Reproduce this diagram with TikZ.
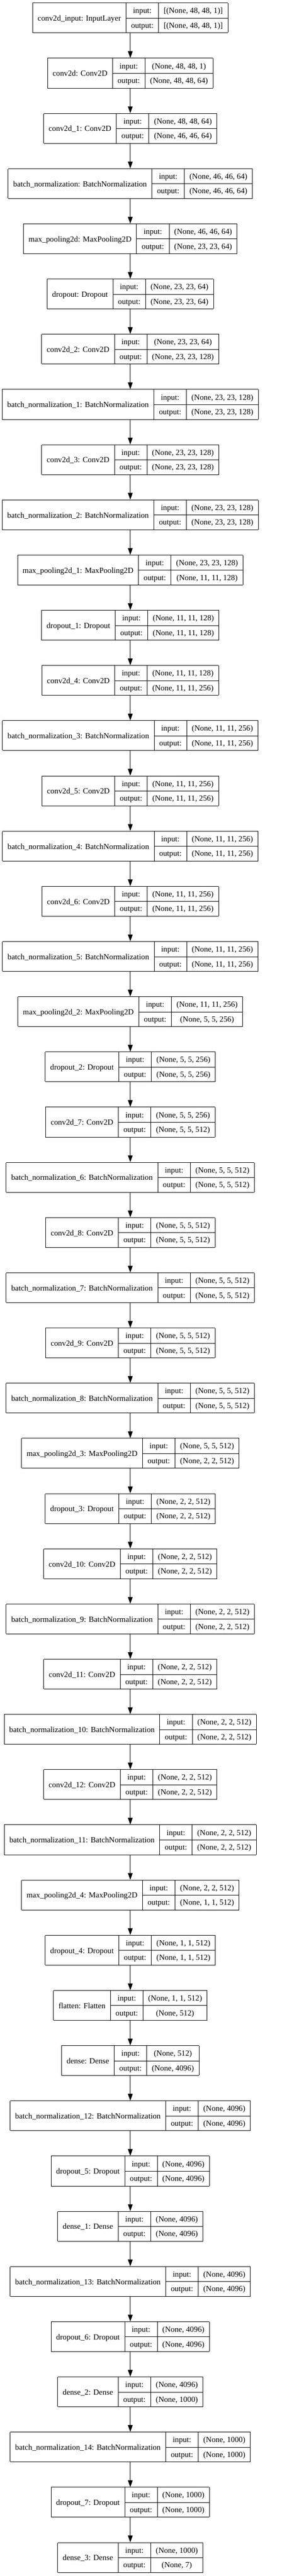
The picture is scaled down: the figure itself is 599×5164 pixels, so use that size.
\documentclass[tikz,border=0pt]{standalone}
\usepackage{fontspec}
\setmainfont{Liberation Serif}
\usetikzlibrary{arrows.meta}
\newcommand\kfont{\fontsize{15.8pt}{19pt}\selectfont}
\newcommand\kstrut{\rule[-9.25pt]{0pt}{29.5pt}}
\newcommand\recbody[3]{%
	\setlength\tabcolsep{10.2pt}\setlength\arrayrulewidth{1pt}\renewcommand\arraystretch{0}%
	\begin{tabular}{|c|c|c|}\hline
		\raisebox{-15.25pt}[0pt][0pt]{#1} & \kstrut input: & #2\\\cline{2-3}
		& \kstrut output: & #3\\\hline
	\end{tabular}}
\newcommand\layer[4]{\node[rec] (L#1) at (261,{-5.5-#1*110.67}) {\recbody{#2}{#3}{#4}};}
\begin{document}
\begin{tikzpicture}[x=1pt,y=1pt,line width=1pt,font=\kfont,>={Triangle[length=13.5pt,width=9.5pt]},
	rec/.style={inner sep=0pt,outer sep=0pt,anchor=north}]
	\useasboundingbox (0,0) rectangle (599,-5164);
	\layer{0}{conv2d\_input: InputLayer}{[(None, 48, 48, 1)]}{[(None, 48, 48, 1)]}
	\layer{1}{conv2d: Conv2D}{(None, 48, 48, 1)}{(None, 48, 48, 64)}
	\layer{2}{conv2d\_1: Conv2D}{(None, 48, 48, 64)}{(None, 46, 46, 64)}
	\layer{3}{batch\_normalization: BatchNormalization}{(None, 46, 46, 64)}{(None, 46, 46, 64)}
	\layer{4}{max\_pooling2d: MaxPooling2D}{(None, 46, 46, 64)}{(None, 23, 23, 64)}
	\layer{5}{dropout: Dropout}{(None, 23, 23, 64)}{(None, 23, 23, 64)}
	\layer{6}{conv2d\_2: Conv2D}{(None, 23, 23, 64)}{(None, 23, 23, 128)}
	\layer{7}{batch\_normalization\_1: BatchNormalization}{(None, 23, 23, 128)}{(None, 23, 23, 128)}
	\layer{8}{conv2d\_3: Conv2D}{(None, 23, 23, 128)}{(None, 23, 23, 128)}
	\layer{9}{batch\_normalization\_2: BatchNormalization}{(None, 23, 23, 128)}{(None, 23, 23, 128)}
	\layer{10}{max\_pooling2d\_1: MaxPooling2D}{(None, 23, 23, 128)}{(None, 11, 11, 128)}
	\layer{11}{dropout\_1: Dropout}{(None, 11, 11, 128)}{(None, 11, 11, 128)}
	\layer{12}{conv2d\_4: Conv2D}{(None, 11, 11, 128)}{(None, 11, 11, 256)}
	\layer{13}{batch\_normalization\_3: BatchNormalization}{(None, 11, 11, 256)}{(None, 11, 11, 256)}
	\layer{14}{conv2d\_5: Conv2D}{(None, 11, 11, 256)}{(None, 11, 11, 256)}
	\layer{15}{batch\_normalization\_4: BatchNormalization}{(None, 11, 11, 256)}{(None, 11, 11, 256)}
	\layer{16}{conv2d\_6: Conv2D}{(None, 11, 11, 256)}{(None, 11, 11, 256)}
	\layer{17}{batch\_normalization\_5: BatchNormalization}{(None, 11, 11, 256)}{(None, 11, 11, 256)}
	\layer{18}{max\_pooling2d\_2: MaxPooling2D}{(None, 11, 11, 256)}{(None, 5, 5, 256)}
	\layer{19}{dropout\_2: Dropout}{(None, 5, 5, 256)}{(None, 5, 5, 256)}
	\layer{20}{conv2d\_7: Conv2D}{(None, 5, 5, 256)}{(None, 5, 5, 512)}
	\layer{21}{batch\_normalization\_6: BatchNormalization}{(None, 5, 5, 512)}{(None, 5, 5, 512)}
	\layer{22}{conv2d\_8: Conv2D}{(None, 5, 5, 512)}{(None, 5, 5, 512)}
	\layer{23}{batch\_normalization\_7: BatchNormalization}{(None, 5, 5, 512)}{(None, 5, 5, 512)}
	\layer{24}{conv2d\_9: Conv2D}{(None, 5, 5, 512)}{(None, 5, 5, 512)}
	\layer{25}{batch\_normalization\_8: BatchNormalization}{(None, 5, 5, 512)}{(None, 5, 5, 512)}
	\layer{26}{max\_pooling2d\_3: MaxPooling2D}{(None, 5, 5, 512)}{(None, 2, 2, 512)}
	\layer{27}{dropout\_3: Dropout}{(None, 2, 2, 512)}{(None, 2, 2, 512)}
	\layer{28}{conv2d\_10: Conv2D}{(None, 2, 2, 512)}{(None, 2, 2, 512)}
	\layer{29}{batch\_normalization\_9: BatchNormalization}{(None, 2, 2, 512)}{(None, 2, 2, 512)}
	\layer{30}{conv2d\_11: Conv2D}{(None, 2, 2, 512)}{(None, 2, 2, 512)}
	\layer{31}{batch\_normalization\_10: BatchNormalization}{(None, 2, 2, 512)}{(None, 2, 2, 512)}
	\layer{32}{conv2d\_12: Conv2D}{(None, 2, 2, 512)}{(None, 2, 2, 512)}
	\layer{33}{batch\_normalization\_11: BatchNormalization}{(None, 2, 2, 512)}{(None, 2, 2, 512)}
	\layer{34}{max\_pooling2d\_4: MaxPooling2D}{(None, 2, 2, 512)}{(None, 1, 1, 512)}
	\layer{35}{dropout\_4: Dropout}{(None, 1, 1, 512)}{(None, 1, 1, 512)}
	\layer{36}{flatten: Flatten}{(None, 1, 1, 512)}{(None, 512)}
	\layer{37}{dense: Dense}{(None, 512)}{(None, 4096)}
	\layer{38}{batch\_normalization\_12: BatchNormalization}{(None, 4096)}{(None, 4096)}
	\layer{39}{dropout\_5: Dropout}{(None, 4096)}{(None, 4096)}
	\layer{40}{dense\_1: Dense}{(None, 4096)}{(None, 4096)}
	\layer{41}{batch\_normalization\_13: BatchNormalization}{(None, 4096)}{(None, 4096)}
	\layer{42}{dropout\_6: Dropout}{(None, 4096)}{(None, 4096)}
	\layer{43}{dense\_2: Dense}{(None, 4096)}{(None, 1000)}
	\layer{44}{batch\_normalization\_14: BatchNormalization}{(None, 1000)}{(None, 1000)}
	\layer{45}{dropout\_7: Dropout}{(None, 1000)}{(None, 1000)}
	\layer{46}{dense\_3: Dense}{(None, 1000)}{(None, 7)}
	\foreach \i [evaluate=\i as \j using int(\i+1)] in {0,...,45}
		\draw[->] (L\i) -- (L\j);
\end{tikzpicture}
\end{document}
